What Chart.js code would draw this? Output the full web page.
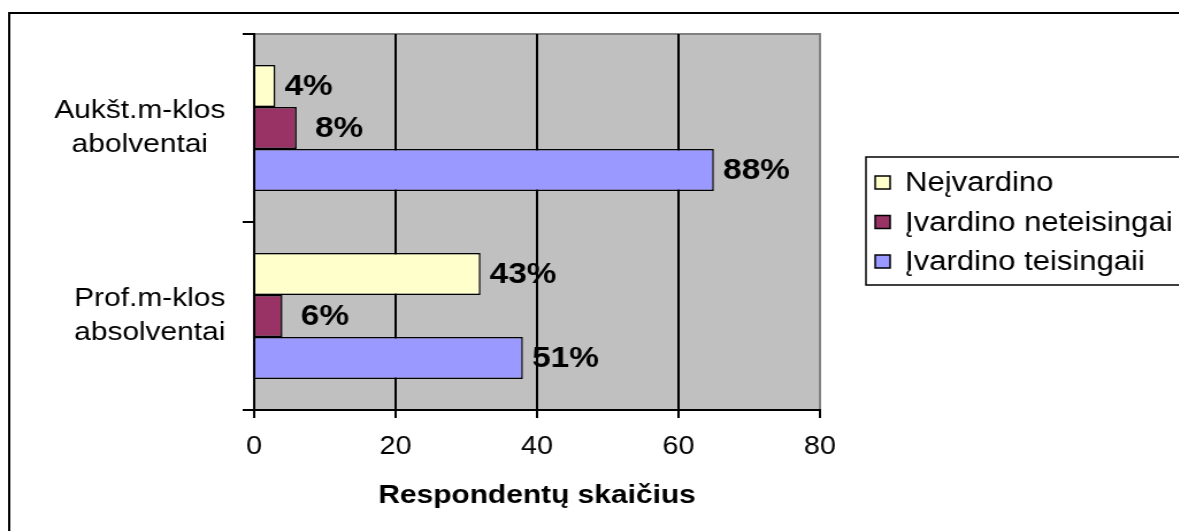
<!DOCTYPE html>
<html>
<head>
<meta charset="utf-8">
<script src="https://cdn.jsdelivr.net/npm/chart.js@4"></script>
<style>
  html, body { margin: 0; padding: 0; background: #fff; overflow: hidden; }
  /* the reference is a horizontally stretched export, so the whole chart is stretched the same way */
  #wrap { position: relative; width: 1025px; height: 531px; transform: scaleX(1.15); transform-origin: 0 0; }
</style>
</head>
<body>
<div id="wrap"><canvas id="myChart"></canvas></div>
<script>
const categories = [['Aukšt.m-klos', 'abolventai'], ['Prof.m-klos', 'absolventai']];
const seriesNames = ['Neįvardino', 'Įvardino neteisingai', 'Įvardino teisingaii'];
const notNamed = [3, 32];
const namedWrong = [6, 4];
const namedRight = [65, 38];
const notNamedLabels = ['4%', '43%'];
const namedWrongLabels = ['8%', '6%'];
const namedRightLabels = ['88%', '51%'];
const xTicks = [0, 20, 40, 60, 80];
const xTitle = 'Respondentų skaičius';

const FONT = '"Liberation Sans", Arial, sans-serif';
Chart.defaults.font.family = FONT;
Chart.defaults.color = '#000';

// white page, outer frame, grey plot area
const frame = {
    id: 'frame',
    beforeDraw(chart) {
        const c = chart.ctx;
        const a = chart.chartArea;
        c.save();
        c.fillStyle = '#fff';
        c.fillRect(0, 0, chart.width, chart.height);
        c.strokeStyle = '#000';
        c.lineWidth = 2;
        c.beginPath();
        c.moveTo(8, chart.height + 5);
        c.lineTo(8, 13);
        c.lineTo(chart.width + 5, 13);
        c.stroke();
        c.fillStyle = '#c0c0c0';
        c.fillRect(a.left, a.top, a.right - a.left, a.bottom - a.top);
        c.strokeStyle = '#808080';
        c.strokeRect(a.left, a.top, a.right - a.left, a.bottom - a.top);
        c.restore();
    }
};

// category labels: each block is right aligned at the axis, its lines centred inside it
const catLabels = {
    id: 'catLabels',
    afterDraw(chart) {
        const s = chart.scales.y;
        const c = chart.ctx;
        const lh = 34.5;
        const right = s.right - 25;
        c.save();
        c.font = '26px ' + FONT;
        c.fillStyle = '#000';
        c.textAlign = 'center';
        c.textBaseline = 'middle';
        chart.data.labels.forEach((lines, i) => {
            const w = Math.max(...lines.map(t => c.measureText(t).width));
            const y0 = s.getPixelForTick(i) - (lines.length - 1) * lh / 2;
            lines.forEach((t, k) => c.fillText(t, right - w / 2, y0 + k * lh));
        });
        c.restore();
    }
};

// percent labels at the end of each bar
const labelGaps = [8, 16, 8];
const valueLabels = {
    id: 'valueLabels',
    afterDatasetsDraw(chart) {
        const c = chart.ctx;
        c.save();
        c.font = 'bold 29px ' + FONT;
        c.fillStyle = '#000';
        c.textBaseline = 'middle';
        c.textAlign = 'left';
        chart.data.datasets.forEach((ds, i) => {
            chart.getDatasetMeta(i).data.forEach((bar, j) => {
                c.fillText(ds.pctLabels[j], bar.x + labelGaps[i], bar.y + 1);
            });
        });
        c.restore();
    }
};

// boxed legend on the right, cut by the page edge like the original
const boxLegend = {
    id: 'boxLegend',
    afterDraw(chart) {
        const c = chart.ctx;
        c.save();
        c.fillStyle = '#fff';
        c.strokeStyle = '#000';
        c.lineWidth = 1.5;
        c.fillRect(753, 157, 400, 128);
        c.strokeRect(753, 157, 400, 128);
        c.font = '27px ' + FONT;
        c.textBaseline = 'middle';
        c.textAlign = 'left';
        chart.data.datasets.forEach((ds, i) => {
            const y = 183 + i * 39.5;
            c.fillStyle = ds.backgroundColor;
            c.fillRect(761, y - 7, 13, 13);
            c.strokeRect(761, y - 7, 13, 13);
            c.fillStyle = '#000';
            c.fillText(ds.label, 787, y + 1);
        });
        c.restore();
    }
};

const ctx = document.getElementById('myChart').getContext('2d');

const myChart = new Chart(ctx, {
    type: 'bar',
    data: {
        labels: categories,
        datasets: [{
            label: seriesNames[0],
            data: notNamed,
            pctLabels: notNamedLabels,
            backgroundColor: '#FFFFCC'
        }, {
            label: seriesNames[1],
            data: namedWrong,
            pctLabels: namedWrongLabels,
            backgroundColor: '#993366'
        }, {
            label: seriesNames[2],
            data: namedRight,
            pctLabels: namedRightLabels,
            backgroundColor: '#9999FF'
        }]
    },
    options: {
        indexAxis: 'y',
        responsive: true,
        maintainAspectRatio: false,
        animation: false,
        layout: { padding: { left: 0, right: 312, top: 34, bottom: 0 } },
        datasets: {
            bar: { categoryPercentage: 0.67, barPercentage: 1.0, borderColor: '#000', borderWidth: 1.5 }
        },
        plugins: {
            legend: { display: false },
            tooltip: { enabled: false }
        },
        scales: {
            x: {
                type: 'linear',
                min: 0,
                max: 80,
                afterBuildTicks: s => { s.ticks = xTicks.map(v => ({ value: v })); },
                afterFit: s => { s.height = 121; },
                grid: {
                    color: c => (c.tick && c.tick.value === 80 ? '#808080' : '#000'),
                    lineWidth: 2,
                    tickLength: 8,
                    tickColor: '#000',
                    tickWidth: 2
                },
                border: { color: '#000', width: 2 },
                ticks: { color: '#000', padding: 14, font: { size: 25 } },
                title: {
                    display: true,
                    text: xTitle,
                    color: '#000',
                    font: { size: 26, weight: 'bold' },
                    padding: { top: 0, bottom: 20 }
                }
            },
            y: {
                afterFit: s => { s.width = 221; },
                grid: { drawOnChartArea: false, tickLength: 10, color: '#000', lineWidth: 2 },
                border: { color: '#000', width: 2 },
                ticks: { display: false }
            }
        }
    },
    plugins: [frame, catLabels, valueLabels, boxLegend]
});
</script>
</body>
</html>
